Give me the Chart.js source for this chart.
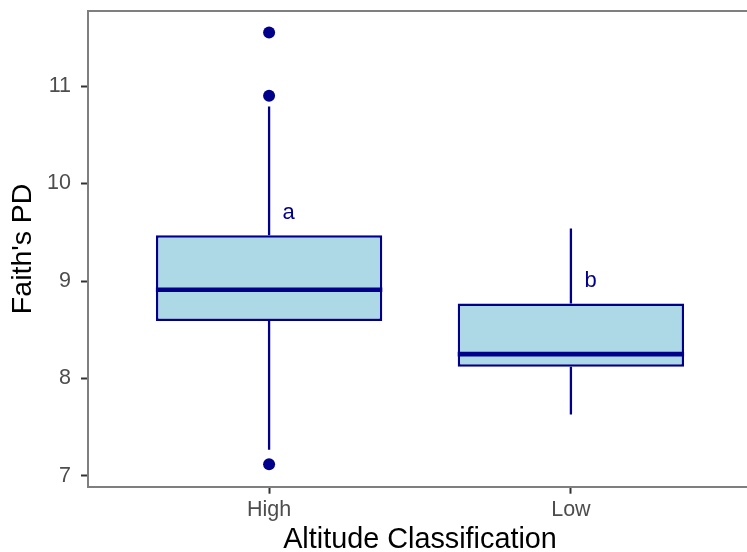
<!DOCTYPE html>
<html>
<head>
<meta charset="utf-8">
<script src="https://cdn.jsdelivr.net/npm/chart.js@4/dist/chart.umd.min.js"></script>
<style>
  html, body { margin: 0; padding: 0; background: #fff; }
  #frame { width: 747px; height: 552px; overflow: hidden; position: relative; }
  #faithChart { display: block; }
</style>
</head>
<body>
<div id="frame">
  <canvas id="faithChart" width="762" height="580"></canvas>
</div>
<script>
// Faith's PD by altitude class
const groups = ['High', 'Low'];
const q1 = [8.59, 8.12];
const median = [8.91, 8.25];
const q3 = [9.47, 8.77];
const whiskerLow = [7.27, 7.63];
const whiskerHigh = [10.79, 9.54];
const outliers = [[11.55, 10.90, 7.12], []];
const letters = ['a', 'b'];
const letterY = [9.7, 9.0];
const yTicks = [7, 8, 9, 10, 11];

const darkBlue = '#00008B';
const lightBlue = '#ADD8E6';
const fontFamily = '"Liberation Sans", Arial, Helvetica, sans-serif';
const boxWidth = 0.75;

// boxes as floating bars
const boxData = groups.map((g, i) => ({ x: i + 1, y: [q1[i], q3[i]] }));

// whiskers: upper and lower segment, broken by a null point
const whiskerSets = groups.map((g, i) => ({
    type: 'line',
    data: [
        { x: i + 1, y: whiskerHigh[i] },
        { x: i + 1, y: q3[i] },
        { x: i + 1, y: null },
        { x: i + 1, y: q1[i] },
        { x: i + 1, y: whiskerLow[i] }
    ],
    borderColor: darkBlue,
    borderWidth: 2.3,
    pointRadius: 0,
    spanGaps: false,
    fill: false,
    order: 3
}));

const medianSets = groups.map((g, i) => ({
    type: 'line',
    data: [
        { x: i + 1 - boxWidth / 2, y: median[i] },
        { x: i + 1 + boxWidth / 2, y: median[i] }
    ],
    borderColor: darkBlue,
    borderWidth: 4.6,
    borderCapStyle: 'butt',
    pointRadius: 0,
    fill: false,
    order: 1
}));

const outlierPoints = [];
outliers.forEach((list, i) => list.forEach(v => outlierPoints.push({ x: i + 1, y: v })));

// top panel edge + significance letters
const panelExtras = {
    id: 'panelExtras',
    afterDraw(chart) {
        const { ctx, chartArea, scales } = chart;
        ctx.save();
        ctx.strokeStyle = '#7f7f7f';
        ctx.lineWidth = 2;
        ctx.beginPath();
        ctx.moveTo(chartArea.left - 1, chartArea.top);
        ctx.lineTo(chartArea.right, chartArea.top);
        ctx.stroke();

        ctx.fillStyle = darkBlue;
        ctx.font = '22px ' + fontFamily;
        ctx.textAlign = 'center';
        ctx.textBaseline = 'middle';
        letters.forEach((t, i) => {
            const px = scales.x.getPixelForValue(i + 1.065);
            const py = scales.y.getPixelForValue(letterY[i]);
            ctx.fillText(t, px, py);
        });
        ctx.restore();
    }
};

new Chart(document.getElementById('faithChart'), {
    type: 'scatter',
    data: {
        datasets: [
            {
                type: 'scatter',
                data: outlierPoints,
                pointRadius: 6,
                pointBackgroundColor: darkBlue,
                pointBorderWidth: 0,
                order: 0
            },
            ...medianSets,
            ...whiskerSets,
            {
                type: 'bar',
                data: boxData,
                backgroundColor: lightBlue,
                borderColor: darkBlue,
                borderWidth: 2.5,
                borderSkipped: false,
                barPercentage: boxWidth,
                categoryPercentage: 1,
                order: 2
            }
        ]
    },
    options: {
        responsive: false,
        devicePixelRatio: 1,
        animation: false,
        layout: { padding: { top: 11, right: 10, bottom: 0, left: 0 } },
        plugins: {
            legend: { display: false },
            tooltip: { enabled: false }
        },
        scales: {
            x: {
                type: 'linear',
                min: 0.4,
                max: 2.6,
                offset: false,
                afterBuildTicks: s => { s.ticks = groups.map((g, i) => ({ value: i + 1 })); },
                afterFit: s => { s.height = 93.3; s.paddingLeft = 0; s.paddingRight = 0; },
                grid: {
                    offset: false,
                    drawOnChartArea: false,
                    tickLength: 7,
                    tickColor: '#333333',
                    tickWidth: 2
                },
                border: { display: true, color: '#7f7f7f', width: 2 },
                ticks: {
                    padding: 3.7,
                    color: '#4D4D4D',
                    font: { family: fontFamily, size: 21.5 },
                    callback: (v, idx) => groups[idx]
                },
                title: {
                    display: true,
                    text: 'Altitude Classification',
                    color: '#000',
                    font: { family: fontFamily, size: 28.8 },
                    padding: { top: 0, bottom: 22.8 }
                }
            },
            y: {
                min: 6.89,
                max: 11.77,
                afterBuildTicks: s => { s.ticks = yTicks.map(v => ({ value: v })); },
                afterFit: s => { s.width = 88; s.paddingTop = 0; s.paddingBottom = 0; },
                grid: {
                    drawOnChartArea: false,
                    tickLength: 7,
                    tickColor: '#333333',
                    tickWidth: 2
                },
                border: { display: true, color: '#7f7f7f', width: 2 },
                ticks: {
                    padding: 10,
                    color: '#4D4D4D',
                    font: { family: fontFamily, size: 21.5 }
                },
                title: {
                    display: true,
                    text: "Faith's PD",
                    color: '#000',
                    font: { family: fontFamily, size: 28.5 },
                    padding: { top: 6.5, bottom: 0 }
                }
            }
        }
    },
    plugins: [panelExtras]
});
</script>
</body>
</html>
